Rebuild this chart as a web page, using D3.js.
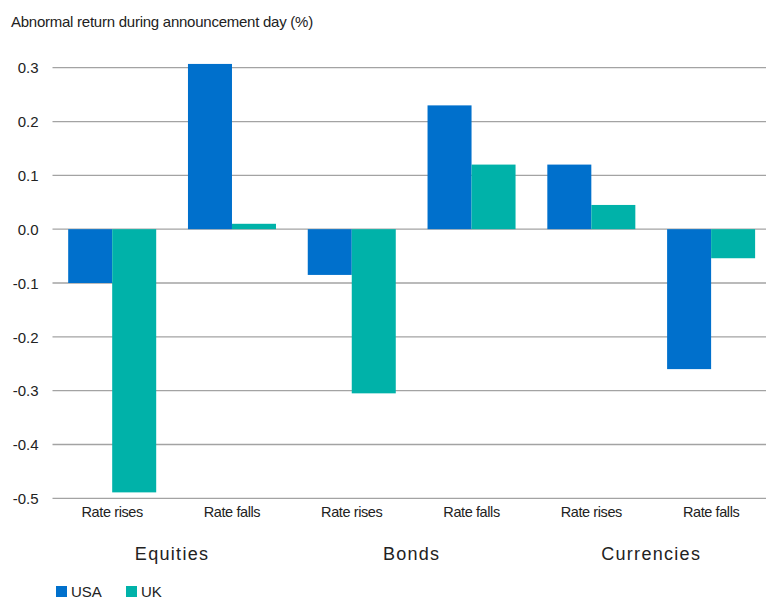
<!DOCTYPE html>
<html>
<head>
<meta charset="utf-8">
<script src="https://cdn.jsdelivr.net/npm/d3@7"></script>
<style>
  html, body { margin: 0; padding: 0; background: #fff; }
  svg { display: block; font-family: "Liberation Sans", Arial, sans-serif; }
</style>
</head>
<body>
<svg id="chart" width="766" height="599"></svg>
<script>
// Abnormal returns (%) on rate-announcement days, by asset class
const groups = ["Equities", "Bonds", "Currencies"];
const events = ["Rate rises", "Rate falls"];
const categories = ["Equities|Rate rises", "Equities|Rate falls", "Bonds|Rate rises", "Bonds|Rate falls", "Currencies|Rate rises", "Currencies|Rate falls"];
const seriesNames = ["USA", "UK"];
const usaValues = [-0.10, 0.307, -0.085, 0.23, 0.12, -0.26];
const ukValues = [-0.489, 0.01, -0.305, 0.12, 0.045, -0.054];
const yTicks = [0.3, 0.2, 0.1, 0.0, -0.1, -0.2, -0.3, -0.4, -0.5];
const colors = { USA: "#0070cc", UK: "#00b2a9" };

const svg = d3.select("#chart");

const x = d3.scaleBand().domain(categories).range([52.3, 771]).paddingInner(0).paddingOuter(0);
const xs = d3.scaleBand().domain(seriesNames).range([0, x.bandwidth()]).paddingInner(0).paddingOuter(0.361);
const y = d3.scaleLinear().domain([-0.5, 0.3]).range([498.3, 67.7]);

// Horizontal gridlines
svg.append("g").selectAll("line.grid").data(yTicks).join("line")
  .attr("class", "grid")
  .attr("x1", 52.5).attr("x2", 766)
  .attr("y1", d => y(d)).attr("y2", d => y(d))
  .attr("stroke", "#a3a3a3").attr("stroke-width", 1.3);

// Value axis labels (plain hyphen for negatives)
const fmt = d3.format(".1f");
const yAxis = d3.axisLeft(y).tickValues(yTicks).tickFormat(d => fmt(d).replace("\u2212", "-")).tickSize(0).tickPadding(0);
const axisG = svg.append("g").attr("transform", "translate(38.5,0)").call(yAxis);
axisG.select(".domain").remove();
axisG.selectAll("text")
  .attr("font-size", 15).attr("fill", "#222")
  .attr("font-family", "Liberation Sans, Arial, sans-serif")
  .attr("dy", "0.35em");

// Bars
const rows = categories.map((c, i) => ({ cat: c, USA: usaValues[i], UK: ukValues[i] }));
const barG = svg.append("g");
rows.forEach(r => {
  seriesNames.forEach(s => {
    const v = r[s];
    barG.append("rect")
      .attr("x", x(r.cat) + xs(s))
      .attr("width", xs.bandwidth())
      .attr("y", y(Math.max(0, v)))
      .attr("height", Math.abs(y(v) - y(0)))
      .attr("fill", colors[s]);
  });
});

// Category labels under the plot
const xAxis = d3.axisBottom(x).tickFormat(d => d.split("|")[1]).tickSize(0).tickPadding(0);
const gx = svg.append("g").attr("transform", "translate(0,507)").call(xAxis);
gx.select(".domain").remove();
gx.selectAll("text")
  .attr("font-size", 14.5).attr("fill", "#222")
  .attr("font-family", "Liberation Sans, Arial, sans-serif")
  .attr("letter-spacing", "-0.4px")
  .attr("dy", "0.71em");

// Asset-class group labels
svg.append("g").selectAll("text").data(groups).join("text")
  .attr("x", g => (x(g + "|Rate rises") + x(g + "|Rate falls") + x.bandwidth()) / 2)
  .attr("y", 560)
  .attr("text-anchor", "middle")
  .attr("font-size", 18)
  .attr("letter-spacing", "1.3px")
  .attr("fill", "#222")
  .text(g => g);

// Title
svg.append("text")
  .attr("x", 11).attr("y", 27)
  .attr("font-size", 15)
  .attr("letter-spacing", "-0.25px")
  .attr("fill", "#222")
  .text("Abnormal return during announcement day (%)");

// Legend
const legend = svg.append("g").attr("transform", "translate(56,586)");
const legendX = { USA: 0, UK: 70 };
seriesNames.forEach(s => {
  const g = legend.append("g").attr("transform", `translate(${legendX[s]},0)`);
  g.append("rect").attr("width", 11).attr("height", 11).attr("fill", colors[s]);
  g.append("text").attr("x", 15).attr("y", 11).attr("font-size", 15).attr("fill", "#222").text(s);
});
</script>
</body>
</html>
